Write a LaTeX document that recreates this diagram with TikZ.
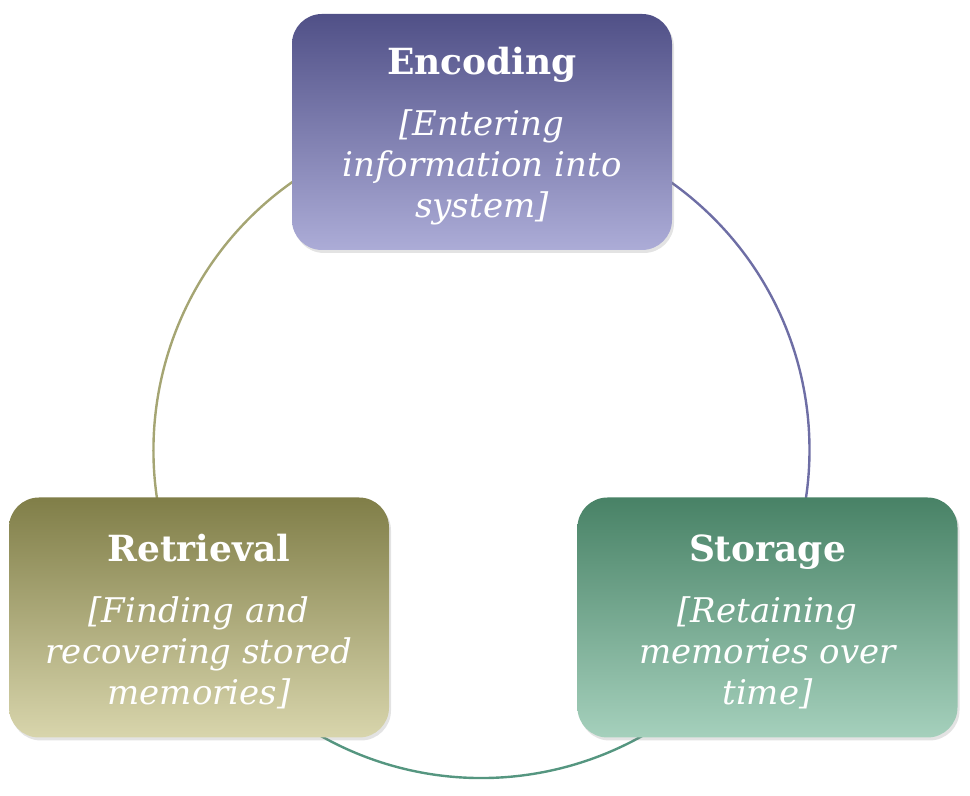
\documentclass[tikz,border=0pt]{standalone}
\usepackage{fontspec}
\setmainfont{DejaVu Serif}
\usetikzlibrary{calc,shadows}

\definecolor{encTop}{RGB}{80,80,135}
\definecolor{encBot}{RGB}{172,172,215}
\definecolor{retTop}{RGB}{128,126,72}
\definecolor{retBot}{RGB}{216,213,172}
\definecolor{stoTop}{RGB}{72,130,102}
\definecolor{stoBot}{RGB}{165,208,188}
\definecolor{encLine}{RGB}{110,110,165}
\definecolor{retLine}{RGB}{165,165,115}
\definecolor{stoLine}{RGB}{85,150,128}

\newcommand{\stagehead}[1]{{\rule{0pt}{17.5pt}\fontsize{18}{20.5}\selectfont\upshape\bfseries #1}}

\begin{document}
\begin{tikzpicture}[x=0.5pt,y=0.5pt,
    stage/.style={rounded corners=15pt, minimum width=190pt, minimum height=120pt,
      align=center, text=white, font=\fontsize{17}{20.5}\selectfont\itshape,
      drop shadow={opacity=.22, shadow xshift=1pt, shadow yshift=-1.5pt}},
    ring/.style={line width=1.2pt}]
    \useasboundingbox (0,0) rectangle (970,796);

    % circle behind the three stages
    \coordinate (hub) at (481.5,346);
    \coordinate (encpt) at ($(hub)+(90:328)$);
    \coordinate (stopt) at ($(hub)+(-30:328)$);
    \coordinate (retpt) at ($(hub)+(210:328)$);
    \draw[ring,encLine] (encpt) arc[start angle=90, end angle=-30, radius=328];
    \draw[ring,stoLine] (stopt) arc[start angle=-30, end angle=-150, radius=328];
    \draw[ring,retLine] (retpt) arc[start angle=210, end angle=90, radius=328];

    % stages
    \node[stage, top color=encTop, bottom color=encBot, minimum height=118pt] (enc) at (482,664)
        {\stagehead{Encoding}\\[10pt][Entering\\information into\\system]};
    \node[stage, top color=stoTop, bottom color=stoBot] (sto) at (767.5,178.5)
        {\stagehead{Storage}\\[10pt][Retaining\\memories over\\time]};
    \node[stage, top color=retTop, bottom color=retBot] (ret) at (199,178.5)
        {\stagehead{Retrieval}\\[10pt][Finding and\\recovering stored\\memories]};
\end{tikzpicture}
\end{document}
